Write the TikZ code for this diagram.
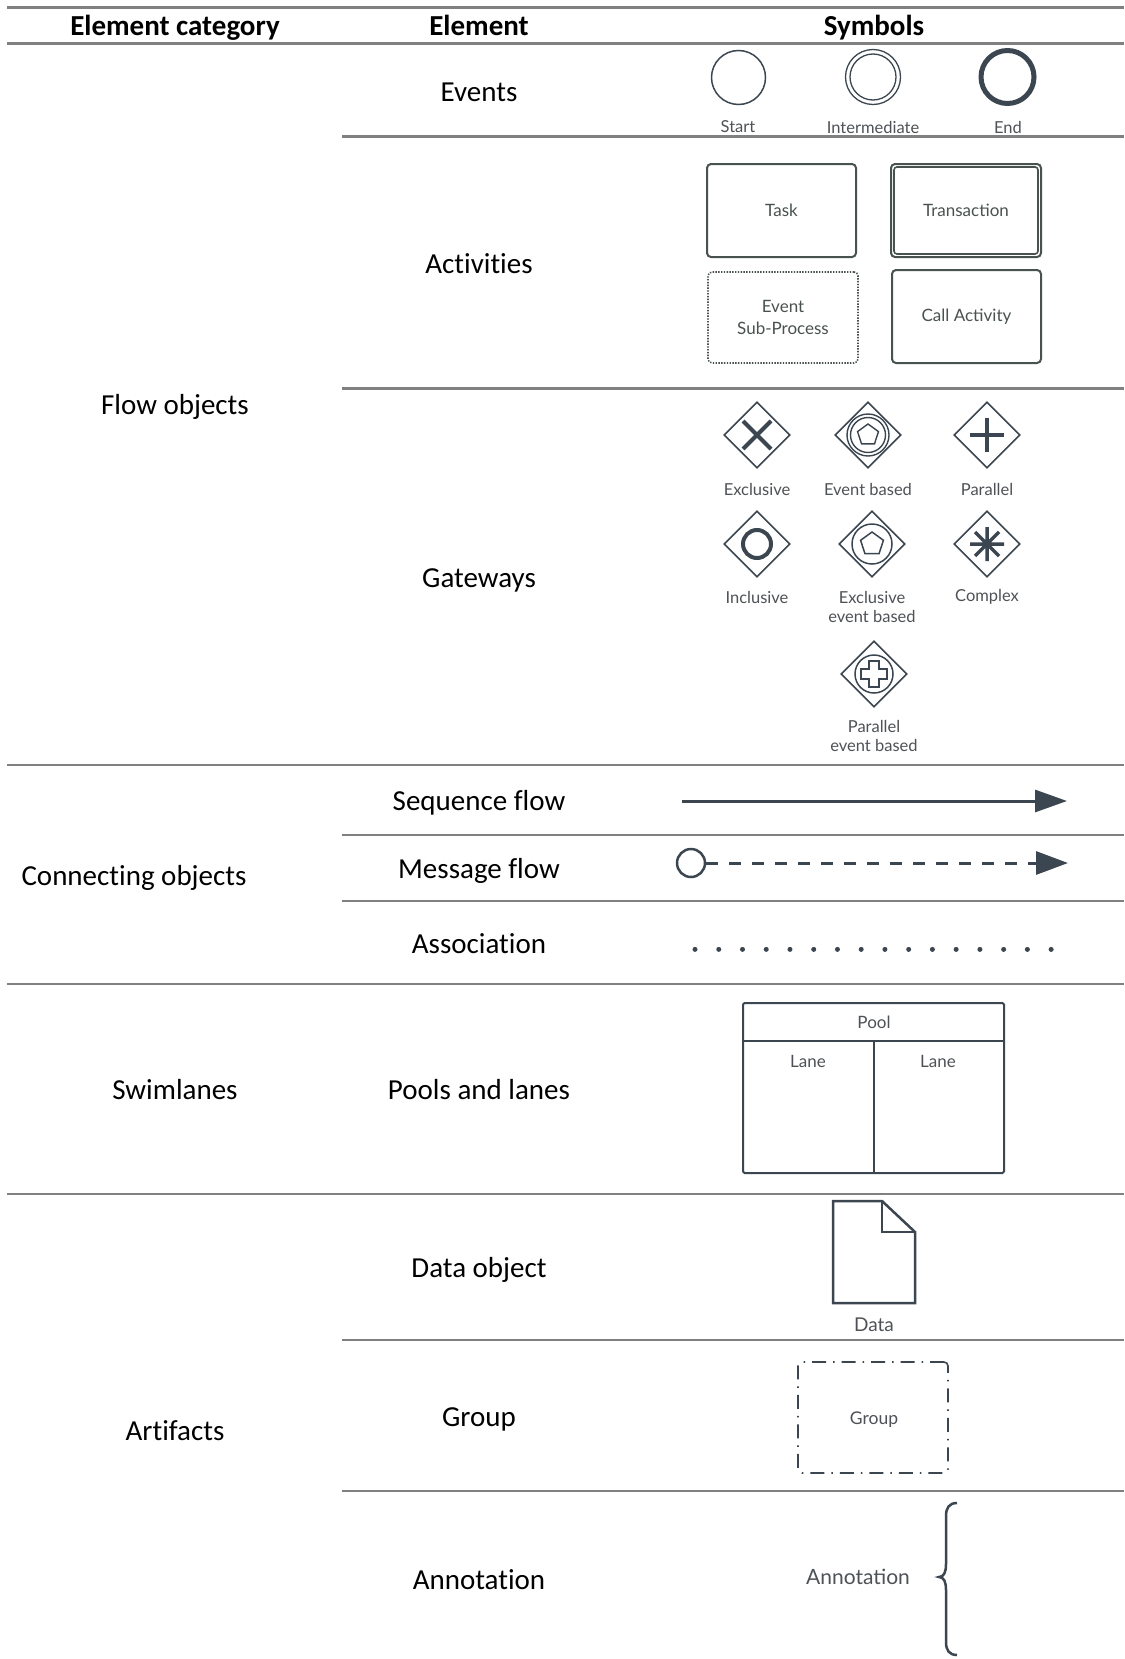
\documentclass[tikz,border=0pt]{standalone}
\usepackage{fontspec}
\setmainfont{Carlito}[Ligatures=NoCommon]
\newfontfamily\symfont{Lato}
\usetikzlibrary{arrows.meta,shapes.geometric}

\definecolor{rulegray}{RGB}{128,128,128}
\definecolor{ink}{RGB}{60,70,80}
\definecolor{boxink}{RGB}{72,82,78}
\definecolor{labelgray}{RGB}{78,82,86}

\tikzset{
  tablerule/.style={draw=rulegray, line width=2.4pt},
  headtext/.style={font=\fontsize{29}{33}\selectfont\bfseries, inner sep=0pt, text height=19pt, text depth=0pt},
  maintext/.style={font=\fontsize{29}{33}\selectfont, inner sep=0pt, text height=19pt, text depth=0pt},
  symlabel/.style={font=\symfont\fontsize{16.5}{19}\selectfont, text=labelgray, align=center, inner sep=0pt},
  boxlabel/.style={font=\symfont\fontsize{17}{22}\selectfont, text=boxink, align=center},
  activity/.style={draw=boxink, line width=2pt, rounded corners=4pt, minimum width=149pt, minimum height=93pt},
  eventcircle/.style={circle, draw=ink, inner sep=0pt},
  gateway/.style={diamond, draw=ink, line width=1.6pt, minimum width=66pt, minimum height=66pt, inner sep=0pt},
  gwmark/.style={draw=ink, line width=1.5pt},
}

\begin{document}
\begin{tikzpicture}[x=1pt, y=-1pt]
  \fill[white] (0,0) rectangle (1124,1659);
  \useasboundingbox (0,0) rectangle (1124,1659);

  % ---- table rules ----
  \draw[tablerule] (7,7.4) -- (1124,7.4);
  \draw[tablerule] (7,43.5) -- (1124,43.5);
  \draw[tablerule] (342,136.5) -- (1124,136.5);
  \draw[tablerule] (342,388.5) -- (1124,388.5);
  \draw[tablerule] (7,765) -- (1124,765);
  \draw[tablerule] (342,835) -- (1124,835);
  \draw[tablerule] (342,900.7) -- (1124,900.7);
  \draw[tablerule] (7,984) -- (1124,984);
  \draw[tablerule] (7,1194) -- (1124,1194);
  \draw[tablerule] (342,1340) -- (1124,1340);
  \draw[tablerule] (342,1491) -- (1124,1491);

  % ---- header ----
  \node[headtext] (hcat) at (175,26.5) {Element category};
  \node[headtext] (helem) at (479,26.5) {Element};
  \node[headtext] (hsym) at (874,26.5) {Symbols};

  % ---- categories ----
  \node[maintext] (cflow) at (175,405) {Flow objects};
  \node[maintext] (cconn) at (134,876) {Connecting objects};
  \node[maintext] (cswim) at (175,1090) {Swimlanes};
  \node[maintext] (cart) at (175,1431) {Artifacts};

  % ---- elements ----
  \node[maintext] (eevents) at (479,92) {Events};
  \node[maintext] (eact) at (479,264) {Activities};
  \node[maintext] (egw) at (479,578) {Gateways};
  \node[maintext] (eseq) at (479,801) {Sequence flow};
  \node[maintext] (emsg) at (479,869) {Message flow};
  \node[maintext] (eassoc) at (479,944) {Association};
  \node[maintext] (epool) at (479,1090) {Pools and lanes};
  \node[maintext] (edata) at (479,1268) {Data object};
  \node[maintext] (egroup) at (479,1417) {Group};
  \node[maintext] (eannot) at (479,1580) {Annotation};

  % ---- events ----
  \node[eventcircle, line width=1.5pt, minimum size=54pt] (evstart) at (738.5,77.5) {};
  \node[eventcircle, line width=1.3pt, minimum size=55pt] (evinter) at (873,77) {};
  \node[eventcircle, line width=1.3pt, minimum size=46pt] (evinterin) at (873,77) {};
  \node[eventcircle, line width=5pt, minimum size=53pt] (evend) at (1007.5,77) {};
  \node[symlabel] (lstart) at (738,127) {Start};
  \node[symlabel] (linter) at (873,127) {Intermediate};
  \node[symlabel] (lend) at (1008,127) {End};

  % ---- activities ----
  \node[activity, boxlabel] (task) at (781.5,210.5) {Task};
  \node[activity, boxlabel, minimum width=150pt] (trans) at (966,210.5) {Transaction};
  \draw[boxink, line width=1.6pt, rounded corners=3pt]
    ([shift={(4,4)}]trans.north west) rectangle ([shift={(-4,-4)}]trans.south east);
  \node[activity, boxlabel, line width=1.6pt, dash pattern=on 1.4pt off 1.4pt,
        minimum width=150pt, minimum height=91pt] (evsub) at (783,317.5) {Event\\Sub-Process};
  \node[activity, boxlabel] (call) at (966.5,316.5) {Call Activity};

  % ---- gateways ----
  \node[gateway] (gexcl) at (757,435) {};
  \begin{scope}[shift={(gexcl.center)}]
    \draw[gwmark, line width=4pt] (-14,-14) -- (14,14) (-14,14) -- (14,-14);
  \end{scope}
  \node[gateway] (gevent) at (868,435) {};
  \begin{scope}[shift={(gevent.center)}]
    \draw[gwmark, line width=1.4pt] (0,0) circle (21) (0,0) circle (17.5);
    \draw[gwmark, line width=1.4pt] (-90:11) -- (-18:11) -- (54:11) -- (126:11) -- (198:11) -- cycle;
  \end{scope}
  \node[gateway] (gpar) at (987,435) {};
  \begin{scope}[shift={(gpar.center)}]
    \draw[gwmark, line width=3.5pt] (-17,0) -- (17,0) (0,-17) -- (0,17);
  \end{scope}
  \node[gateway] (gincl) at (757,544) {};
  \begin{scope}[shift={(gincl.center)}]
    \draw[gwmark, line width=4pt] (0,0) circle (14);
  \end{scope}
  \node[gateway] (gexev) at (872,544) {};
  \begin{scope}[shift={(gexev.center)}]
    \draw[gwmark, line width=1.5pt] (0,0) circle (20);
    \draw[gwmark, line width=1.5pt] (-90:12) -- (-18:12) -- (54:12) -- (126:12) -- (198:12) -- cycle;
  \end{scope}
  \node[gateway] (gcomp) at (987,544) {};
  \begin{scope}[shift={(gcomp.center)}]
    \draw[gwmark, line width=3.5pt] (-17,0) -- (17,0) (0,-17) -- (0,17)
      (-12,-12) -- (12,12) (-12,12) -- (12,-12);
  \end{scope}
  \node[gateway] (gparev) at (874,674) {};
  \begin{scope}[shift={(gparev.center)}]
    \draw[gwmark, line width=1.5pt] (0,0) circle (19);
    \draw[gwmark, line width=1.5pt]
      (-5,-13) -- (5,-13) -- (5,-5) -- (13,-5) -- (13,5) -- (5,5) -- (5,13)
      -- (-5,13) -- (-5,5) -- (-13,5) -- (-13,-5) -- (-5,-5) -- cycle;
  \end{scope}
  \node[symlabel] (lexcl) at (757,489) {Exclusive};
  \node[symlabel] (levent) at (868,489) {Event based};
  \node[symlabel] (lpar) at (987,489) {Parallel};
  \node[symlabel] (lincl) at (757,597) {Inclusive};
  \node[symlabel] (lexev) at (872,606.5) {Exclusive\\event based};
  \node[symlabel] (lcomp) at (987,597) {Complex};
  \node[symlabel] (lparev) at (874,736) {Parallel\\event based};

  % ---- connecting objects ----
  \coordinate (seqstart) at (682,801);
  \coordinate (seqend) at (1067,801);
  \draw[ink, line width=3pt, -{Triangle[length=32pt,width=22pt]}] (seqstart) -- (seqend);

  \node[eventcircle, line width=2.5pt, minimum size=28pt, fill=white] (msgsrc) at (691,863) {};
  \coordinate (msgend) at (1068,863);
  \draw[ink, line width=3pt, dash pattern=on 12pt off 11pt,
        -{Triangle[length=32pt,width=23pt]}] (msgsrc) -- (msgend);

  \coordinate (assocstart) at (695,949);
  \coordinate (assocend) at (1052,949);
  \draw[ink, line width=5pt, line cap=round, dash pattern=on 0.01pt off 23.73pt]
    (assocstart) -- (assocend);

  % ---- pool and lanes ----
  \node[draw=ink, line width=2pt, rounded corners=1.5pt, minimum width=261pt,
        minimum height=170pt, inner sep=0pt] (pool) at (873.5,1088) {};
  \draw[ink, line width=2pt] ([yshift=-39pt]pool.north west) -- ([yshift=-39pt]pool.north east);
  \draw[ink, line width=2pt] ([yshift=-39pt]pool.north) -- (pool.south);
  \node[symlabel, font=\symfont\fontsize{17}{20}\selectfont] (lpool) at (874,1022) {Pool};
  \node[symlabel, font=\symfont\fontsize{17}{20}\selectfont] (llane1) at (808,1061) {Lane};
  \node[symlabel, font=\symfont\fontsize{17}{20}\selectfont] (llane2) at (938,1061) {Lane};

  % ---- data object ----
  \draw[ink, line width=2.5pt, line join=miter]
    (833,1201) -- (882,1201) -- (915,1232) -- (915,1303) -- (833,1303) -- cycle;
  \draw[ink, line width=2pt] (882,1201) -- (882,1232) -- (915,1232);
  \node[symlabel, font=\symfont\fontsize{19}{22}\selectfont] (ldata) at (874,1325) {Data};

  % ---- group ----
  \node[draw=ink, line width=1.6pt, rounded corners=4pt,
        dash pattern=on 14pt off 7pt on 1.5pt off 7pt,
        minimum width=150pt, minimum height=111pt, inner sep=0pt] (grp) at (873,1417.5) {};
  \node[symlabel, font=\symfont\fontsize{17.5}{20}\selectfont] (lgrp) at (874,1420) {Group};

  % ---- annotation ----
  \node[symlabel, font=\symfont\fontsize{21}{24}\selectfont] (lannot) at (858,1577) {Annotation};
  \draw[ink, line width=2.5pt]
    (957,1503) .. controls (949,1503) and (946,1508) .. (946,1516)
    -- (946,1564) .. controls (946,1572) and (944,1577) .. (939,1577)
    .. controls (944,1577) and (946,1582) .. (946,1590)
    -- (946,1642) .. controls (946,1650) and (949,1655) .. (957,1655);
\end{tikzpicture}
\end{document}
